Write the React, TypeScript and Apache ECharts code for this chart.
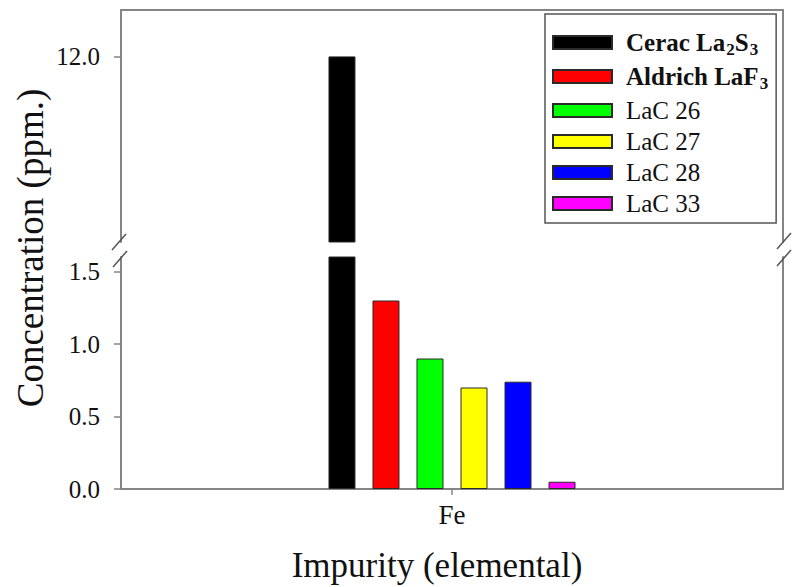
import React, { useEffect, useRef } from "react";
import * as echarts from "echarts";

const categories = ["Fe"];
const seriesNames = ["Cerac La2S3", "Aldrich LaF3", "LaC 26", "LaC 27", "LaC 28", "LaC 33"];
const feValues = [12.0, 1.3, 0.9, 0.7, 0.74, 0.05];
const barColors = ["#000000", "#ff0000", "#00ff00", "#ffff00", "#0000ff", "#ff00ff"];
const lowerTicks = [0, 0.5, 1.0, 1.5];
const upperTicks = [12.0];
const lowerRange = [0, 1.6];
const upperRange = [6, 13.5];

const FONT = "Liberation Serif";
const AXIS_COLOR = "#858585";
const TEXT_COLOR = "#111111";

const legendLabels: Record<string, string> = {
  "Cerac La2S3": "{b|Cerac La}{bs|2}{b|S}{bs|3}",
  "Aldrich LaF3": "{b|Aldrich LaF}{bs|3}",
};

export default function App() {
  const ref = useRef<HTMLDivElement>(null);
  useEffect(() => {
    if (!ref.current) return;
    const chart = echarts.init(ref.current, null, { renderer: "svg" });

    const lowerSeries = seriesNames.map((name, i) => ({
      name,
      type: "bar",
      xAxisIndex: 1,
      yAxisIndex: 1,
      barWidth: 27,
      barGap: "63%",
      clip: true,
      itemStyle: { color: barColors[i], borderColor: "#2a2a2a", borderWidth: 1 },
      data: [feValues[i]],
    }));
    const upperSeries = seriesNames.map((name, i) => ({
      name,
      type: "bar",
      xAxisIndex: 0,
      yAxisIndex: 0,
      barWidth: 27,
      barGap: "63%",
      clip: true,
      itemStyle: { color: barColors[i], borderColor: "#2a2a2a", borderWidth: 1 },
      data: [feValues[i] > upperRange[0] ? feValues[i] : "-"],
    }));

    const axisLine = { show: true, lineStyle: { color: AXIS_COLOR, width: 2 } };
    const slash = (cx: number, cy: number) => ({
      type: "line",
      shape: { x1: cx - 7, y1: cy + 8, x2: cx + 7, y2: cy - 8 },
      style: { stroke: "#555", lineWidth: 1.5 },
      z: 100,
    });

    chart.setOption({
      animation: false,
      backgroundColor: "#ffffff",
      textStyle: { fontFamily: FONT, color: TEXT_COLOR },
      grid: [
        { left: 121, right: 9, top: 10, height: 232 },
        { left: 121, right: 9, top: 257, bottom: 98 },
      ],
      xAxis: [
        {
          type: "category",
          gridIndex: 0,
          position: "top",
          data: categories,
          axisLine,
          axisTick: { show: false },
          axisLabel: { show: false },
        },
        {
          type: "category",
          gridIndex: 1,
          data: categories,
          axisLine,
          axisTick: { show: true, alignWithLabel: true, length: 6, lineStyle: { color: AXIS_COLOR, width: 1.5 } },
          axisLabel: { fontSize: 27, margin: 12, color: TEXT_COLOR, fontFamily: FONT },
          name: "Impurity (elemental)",
          nameLocation: "middle",
          nameGap: 59,
          nameTextStyle: { fontSize: 35, color: TEXT_COLOR, fontFamily: FONT, padding: [0, 30, 0, 0] },
        },
      ],
      yAxis: [
        {
          type: "value",
          gridIndex: 0,
          min: upperRange[0],
          max: upperRange[1],
          axisLine,
          splitLine: { show: false },
          axisTick: { show: true, length: 7, customValues: upperTicks, lineStyle: { color: AXIS_COLOR, width: 1.5 } },
          axisLabel: {
            customValues: upperTicks,
            fontSize: 25,
            margin: 21,
            color: TEXT_COLOR,
            fontFamily: FONT,
            formatter: (v: number) => v.toFixed(1),
          },
        },
        {
          type: "value",
          gridIndex: 1,
          min: lowerRange[0],
          max: lowerRange[1],
          axisLine,
          splitLine: { show: false },
          axisTick: { show: true, length: 7, customValues: lowerTicks, lineStyle: { color: AXIS_COLOR, width: 1.5 } },
          axisLabel: {
            customValues: lowerTicks,
            fontSize: 25,
            margin: 21,
            color: TEXT_COLOR,
            fontFamily: FONT,
            formatter: (v: number) => v.toFixed(1),
          },
        },
        {
          type: "value",
          gridIndex: 0,
          position: "right",
          min: upperRange[0],
          max: upperRange[1],
          axisLine,
          splitLine: { show: false },
          axisTick: { show: false },
          axisLabel: { show: false },
        },
        {
          type: "value",
          gridIndex: 1,
          position: "right",
          min: lowerRange[0],
          max: lowerRange[1],
          axisLine,
          splitLine: { show: false },
          axisTick: { show: false },
          axisLabel: { show: false },
        },
      ],
      legend: {
        orient: "vertical",
        left: 545,
        top: 14,
        data: seriesNames,
        icon: "rect",
        itemWidth: 59,
        itemHeight: 13,
        itemGap: 6,
        padding: [16, 8, 7, 7],
        borderColor: "#555555",
        borderWidth: 1.5,
        backgroundColor: "#ffffff",
        selectedMode: false,
        formatter: (name: string) => legendLabels[name] || "{n|" + name + "}",
        textStyle: {
          fontFamily: FONT,
          fontSize: 24,
          padding: [0, 0, 0, 9],
          rich: {
            b: { fontFamily: FONT, fontSize: 25, fontWeight: "bold", color: TEXT_COLOR, lineHeight: 24 },
            bs: { fontFamily: FONT, fontSize: 17, fontWeight: "bold", color: TEXT_COLOR, padding: [14, 0, 0, 1] },
            n: { fontFamily: FONT, fontSize: 25, fontWeight: "normal", color: TEXT_COLOR, lineHeight: 24 },
          },
        },
      },
      graphic: [
        {
          type: "text",
          x: 30,
          y: 248,
          rotation: Math.PI / 2,
          style: {
            text: "Concentration (ppm.)",
            fontFamily: FONT,
            fontSize: 37,
            fill: TEXT_COLOR,
            textAlign: "center",
            textVerticalAlign: "middle",
          },
        },
        slash(119, 242),
        slash(120, 259),
        slash(784, 241),
        slash(784, 258),
      ],
      series: [...upperSeries, ...lowerSeries],
    });
    return () => chart.dispose();
  }, []);
  return (
    <div
      ref={ref}
      style={{ position: "fixed", left: 0, top: 0, width: 792, height: 587 }}
    />
  );
}
